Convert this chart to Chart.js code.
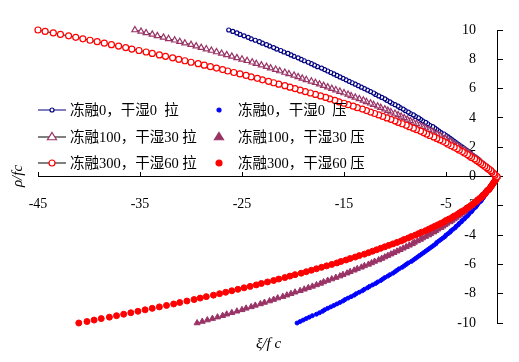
<!DOCTYPE html>
<html>
<head>
<meta charset="utf-8">
<script src="https://cdn.jsdelivr.net/npm/chart.js@4"></script>
<style>
    html, body { margin: 0; padding: 0; background: #fff; }
    #wrap { position: relative; width: 519px; height: 362px; }
    #chart { position: absolute; left: 0; top: 0; }
    .lg-text { position: absolute; font: 14.5px "Liberation Serif", "Noto Sans CJK SC", serif; color: #000; white-space: pre; line-height: 18px; }
    .lg-sym { position: absolute; overflow: visible; }
    .axis-title { position: absolute; font: italic 15px "Liberation Serif", serif; color: #000; white-space: pre; line-height: 18px; }
</style>
</head>
<body>
<div id="wrap">
    <canvas id="chart" width="519" height="362"></canvas>
    <div id="legend"></div>
    <div class="axis-title" id="ytitle" style="left:6px; top:167px; transform: rotate(-90deg); transform-origin: 50% 50%;">ρ/fc</div>
    <div class="axis-title" id="xtitle" style="left:256px; top:334px;">ξ/f c</div>
</div>
<script>
// ρ/fc levels shared by all curves (tension positive, compression mirrored)
const rho = [
    0, 0.1, 0.2, 0.3, 0.4, 0.5, 0.6, 0.7, 0.8, 0.9, 1.0,
    1.1, 1.2, 1.3, 1.4, 1.5, 1.6, 1.7, 1.8, 1.9, 2.0,
    2.1, 2.2, 2.3, 2.4, 2.5, 2.6, 2.7, 2.8, 2.9, 3.0,
    3.1, 3.2, 3.3, 3.4, 3.5, 3.6, 3.7, 3.8, 3.9, 4.0,
    4.1, 4.2, 4.3, 4.4, 4.5, 4.6, 4.7, 4.8, 4.9, 5.0,
    5.1, 5.2, 5.3, 5.4, 5.5, 5.6, 5.7, 5.8, 5.9, 6.0,
    6.1, 6.2, 6.3, 6.4, 6.5, 6.6, 6.7, 6.8, 6.9, 7.0,
    7.1, 7.2, 7.3, 7.4, 7.5, 7.6, 7.7, 7.8, 7.9, 8.0,
    8.1, 8.2, 8.3, 8.4, 8.5, 8.6, 8.7, 8.8, 8.9, 9.0,
    9.1, 9.2, 9.3, 9.4, 9.5, 9.6, 9.7, 9.8, 9.9, 10.0
];

// ξ/fc values, tension (拉)
const xiT0 = [
    0, -0.1, -0.3, -0.5, -0.6, -0.8, -0.9, -1.1, -1.3, -1.4, -1.6,
    -1.8, -1.9, -2.1, -2.3, -2.5, -2.6, -2.8, -3.0, -3.2, -3.4,
    -3.6, -3.8, -4.0, -4.2, -4.4, -4.6, -4.8, -5.0, -5.2, -5.5,
    -5.7, -5.9, -6.1, -6.3, -6.6, -6.8, -7.0, -7.3, -7.5, -7.7,
    -8.0, -8.2, -8.5, -8.7, -9.0, -9.2, -9.5, -9.7, -10.0, -10.3,
    -10.5, -10.8, -11.0, -11.3, -11.6, -11.9, -12.1, -12.4, -12.7, -13.0,
    -13.3, -13.6, -13.9, -14.2, -14.5, -14.8, -15.1, -15.4, -15.7, -16.0,
    -16.3, -16.6, -16.9, -17.2, -17.6, -17.9, -18.2, -18.5, -18.9, -19.2,
    -19.5, -19.9, -20.2, -20.5, -20.9, -21.2, -21.6, -21.9, -22.3, -22.6,
    -23.0, -23.3, -23.7, -24.1, -24.4, -24.8, -25.2, -25.5, -25.9, -26.3
];
const xiT100 = [
    0, -0.1, -0.3, -0.4, -0.6, -0.8, -0.9, -1.1, -1.3, -1.5, -1.6,
    -1.8, -2.0, -2.2, -2.4, -2.6, -2.8, -3.0, -3.2, -3.5, -3.7,
    -3.9, -4.2, -4.4, -4.6, -4.9, -5.1, -5.4, -5.6, -5.9, -6.2,
    -6.4, -6.7, -7.0, -7.3, -7.6, -7.9, -8.2, -8.5, -8.8, -9.1,
    -9.4, -9.7, -10.0, -10.4, -10.7, -11.0, -11.4, -11.7, -12.1, -12.4,
    -12.8, -13.1, -13.5, -13.9, -14.3, -14.6, -15.0, -15.4, -15.8, -16.2,
    -16.6, -17.0, -17.4, -17.8, -18.2, -18.7, -19.1, -19.5, -19.9, -20.4,
    -20.8, -21.3, -21.7, -22.2, -22.6, -23.1, -23.6, -24.0, -24.5, -25.0,
    -25.5, -26.0, -26.5, -27.0, -27.5, -28.0, -28.5, -29.0, -29.5, -30.0,
    -30.6, -31.1, -31.6, -32.2, -32.7, -33.3, -33.8, -34.4, -34.9, -35.5
];
const xiT300 = [
    0, -0.2, -0.3, -0.5, -0.6, -0.8, -1.0, -1.2, -1.4, -1.6, -1.8,
    -2.0, -2.2, -2.5, -2.7, -2.9, -3.2, -3.4, -3.7, -3.9, -4.2,
    -4.5, -4.8, -5.0, -5.3, -5.6, -5.9, -6.2, -6.6, -6.9, -7.2,
    -7.5, -7.9, -8.2, -8.6, -8.9, -9.3, -9.7, -10.0, -10.4, -10.8,
    -11.2, -11.6, -12.0, -12.4, -12.8, -13.2, -13.7, -14.1, -14.6, -15.0,
    -15.5, -15.9, -16.4, -16.8, -17.3, -17.8, -18.3, -18.8, -19.3, -19.8,
    -20.3, -20.8, -21.4, -21.9, -22.4, -23.0, -23.5, -24.1, -24.6, -25.2,
    -25.8, -26.4, -26.9, -27.5, -28.1, -28.7, -29.3, -30.0, -30.6, -31.2,
    -31.8, -32.5, -33.1, -33.8, -34.4, -35.1, -35.8, -36.4, -37.1, -37.8,
    -38.5, -39.2, -39.9, -40.6, -41.3, -42.0, -42.8, -43.5, -44.3, -45.0
];

// ξ/fc values, compression (压)
const xiC0 = [
    0, -0.1, -0.2, -0.2, -0.3, -0.4, -0.5, -0.6, -0.7, -0.8, -0.9,
    -1.0, -1.1, -1.2, -1.3, -1.4, -1.5, -1.6, -1.8, -1.9, -2.0,
    -2.1, -2.3, -2.4, -2.5, -2.7, -2.8, -2.9, -3.1, -3.2, -3.4,
    -3.5, -3.7, -3.8, -4.0, -4.1, -4.3, -4.5, -4.6, -4.8, -5.0,
    -5.1, -5.3, -5.5, -5.7, -5.9, -6.0, -6.2, -6.4, -6.6, -6.8,
    -7.0, -7.2, -7.4, -7.6, -7.8, -8.0, -8.2, -8.4, -8.7, -8.9,
    -9.1, -9.3, -9.6, -9.8, -10.0, -10.2, -10.5, -10.7, -11.0, -11.2,
    -11.4, -11.7, -11.9, -12.2, -12.5, -12.7, -13.0, -13.2, -13.5, -13.8,
    -14.0, -14.3, -14.6, -14.9, -15.1, -15.4, -15.7, -16.0, -16.3, -16.6,
    -16.9, -17.1, -17.4, -17.7, -18.1, -18.4, -18.7, -19.0, -19.3, -19.6
];
const xiC100 = [
    0, -0.1, -0.2, -0.3, -0.4, -0.5, -0.6, -0.7, -0.8, -0.9, -1.1,
    -1.2, -1.3, -1.5, -1.6, -1.7, -1.9, -2.0, -2.2, -2.4, -2.5,
    -2.7, -2.9, -3.1, -3.2, -3.4, -3.6, -3.8, -4.0, -4.2, -4.4,
    -4.6, -4.9, -5.1, -5.3, -5.5, -5.8, -6.0, -6.2, -6.5, -6.7,
    -7.0, -7.3, -7.5, -7.8, -8.1, -8.3, -8.6, -8.9, -9.2, -9.5,
    -9.8, -10.1, -10.4, -10.7, -11.0, -11.3, -11.6, -12.0, -12.3, -12.6,
    -13.0, -13.3, -13.7, -14.0, -14.4, -14.7, -15.1, -15.4, -15.8, -16.2,
    -16.6, -17.0, -17.3, -17.7, -18.1, -18.5, -18.9, -19.3, -19.8, -20.2,
    -20.6, -21.0, -21.5, -21.9, -22.3, -22.8, -23.2, -23.7, -24.1, -24.6,
    -25.0, -25.5, -26.0, -26.5, -26.9, -27.4, -27.9, -28.4, -28.9, -29.4
];
const xiC300 = [
    0, -0.1, -0.1, -0.2, -0.3, -0.4, -0.5, -0.6, -0.7, -0.8, -1.0,
    -1.1, -1.2, -1.4, -1.5, -1.7, -1.9, -2.0, -2.2, -2.4, -2.6,
    -2.8, -3.0, -3.2, -3.5, -3.7, -3.9, -4.2, -4.4, -4.7, -5.0,
    -5.2, -5.5, -5.8, -6.1, -6.4, -6.7, -7.0, -7.4, -7.7, -8.0,
    -8.4, -8.7, -9.1, -9.4, -9.8, -10.2, -10.6, -11.0, -11.4, -11.8,
    -12.2, -12.6, -13.0, -13.5, -13.9, -14.4, -14.8, -15.3, -15.7, -16.2,
    -16.7, -17.2, -17.7, -18.2, -18.7, -19.2, -19.8, -20.3, -20.8, -21.4,
    -21.9, -22.5, -23.1, -23.6, -24.2, -24.8, -25.4, -26.0, -26.6, -27.2,
    -27.8, -28.5, -29.1, -29.7, -30.4, -31.1, -31.7, -32.4, -33.1, -33.8,
    -34.5, -35.2, -35.9, -36.6, -37.3, -38.0, -38.8, -39.5, -40.2, -41.0
];

const xTicks = [-45, -35, -25, -15, -5];
const seriesLabels = [
    '冻融0，干湿0  拉', '冻融0，干湿0  压',
    '冻融100，干湿30 拉', '冻融100，干湿30 压',
    '冻融300，干湿60 拉', '冻融300，干湿60 压'
];

const navy = '#000080', blue = '#0000FF', plum = '#993366', red = '#FF0000';

function tension(label, xi, color, lineColor, style, r, order) {
    return {
        label: label,
        data: xi.map((x, i) => ({ x: x, y: rho[i] })),
        showLine: true,
        borderColor: lineColor,
        borderWidth: 1,
        pointStyle: style,
        pointRadius: r,
        pointBorderColor: color,
        pointBackgroundColor: '#fff',
        pointBorderWidth: 1.2,
        clip: false,
        order: order
    };
}

function compression(label, xi, color, style, r, order) {
    return {
        label: label,
        data: xi.map((x, i) => ({ x: x, y: -rho[i] })),
        showLine: false,
        pointStyle: style,
        pointRadius: r,
        pointBorderColor: color,
        pointBackgroundColor: color,
        pointBorderWidth: 1,
        clip: false,
        order: order
    };
}

const datasets = [
    tension(seriesLabels[0], xiT0, navy, navy, 'circle', 2, 3),
    compression(seriesLabels[1], xiC0, blue, 'circle', 2, 3),
    tension(seriesLabels[2], xiT100, plum, '#000', 'triangle', 3.5, 2),
    compression(seriesLabels[3], xiC100, plum, 'triangle', 3.5, 2),
    tension(seriesLabels[4], xiT300, red, '#000', 'circle', 3, 1),
    compression(seriesLabels[5], xiC300, red, 'circle', 3, 1)
];

const tickFont = { family: 'Liberation Serif', size: 14 };

new Chart(document.getElementById('chart'), {
    type: 'scatter',
    data: { datasets: datasets },
    options: {
        responsive: false,
        animation: false,
        devicePixelRatio: 1,
        layout: { padding: { left: 38, top: 30, right: 22, bottom: 39 } },
        plugins: { legend: { display: false }, tooltip: { enabled: false } },
        scales: {
            x: {
                type: 'linear',
                min: -45,
                max: 0,
                position: { y: 0 },
                afterBuildTicks: scale => { scale.ticks = xTicks.map(v => ({ value: v })); },
                grid: { drawOnChartArea: false, tickLength: -5, color: '#000' },
                border: { color: '#000', width: 1 },
                ticks: { color: '#000', font: tickFont, padding: 24, maxRotation: 0, autoSkip: false }
            },
            y: {
                type: 'linear',
                min: -10,
                max: 10,
                position: 'right',
                grid: { drawOnChartArea: false, tickLength: 6, color: '#000' },
                border: { color: '#000', width: 1 },
                ticks: { stepSize: 2, color: '#000', font: tickFont, mirror: true, padding: -21 }
            }
        }
    }
});

// Legend: two columns (拉 with line, 压 marker only), three rows
const legendRows = [110, 137, 163];
function symbolSvg(ds, withLine) {
    const w = withLine ? 28 : 12, h = 12, cx = w / 2, cy = h / 2, r = ds.pointRadius;
    let s = `<svg class="lg-sym" width="${w}" height="${h}" viewBox="0 0 ${w} ${h}">`;
    if (withLine) s += `<line x1="0" y1="${cy}" x2="${w}" y2="${cy}" stroke="${ds.borderColor}" stroke-width="1"/>`;
    const fill = ds.pointBackgroundColor, stroke = ds.pointBorderColor;
    if (ds.pointStyle === 'triangle') {
        const a = r * 1.3;
        s += `<polygon points="${cx},${cy - a} ${cx + a},${cy + a * 0.6} ${cx - a},${cy + a * 0.6}" fill="${fill}" stroke="${stroke}" stroke-width="1.2"/>`;
    } else {
        s += `<circle cx="${cx}" cy="${cy}" r="${r}" fill="${fill}" stroke="${stroke}" stroke-width="1.2"/>`;
    }
    return s + '</svg>';
}
const legendEl = document.getElementById('legend');
let html = '';
legendRows.forEach((y, row) => {
    const t = datasets[row * 2], c = datasets[row * 2 + 1];
    html += `<div style="position:absolute;left:38px;top:${y - 6}px">${symbolSvg(t, true)}</div>`;
    html += `<div class="lg-text" style="left:70px;top:${y - 9}px">${t.label}</div>`;
    html += `<div style="position:absolute;left:213px;top:${y - 6}px">${symbolSvg(c, false)}</div>`;
    html += `<div class="lg-text" style="left:238px;top:${y - 9}px">${c.label}</div>`;
});
legendEl.innerHTML = html;
</script>
</body>
</html>
